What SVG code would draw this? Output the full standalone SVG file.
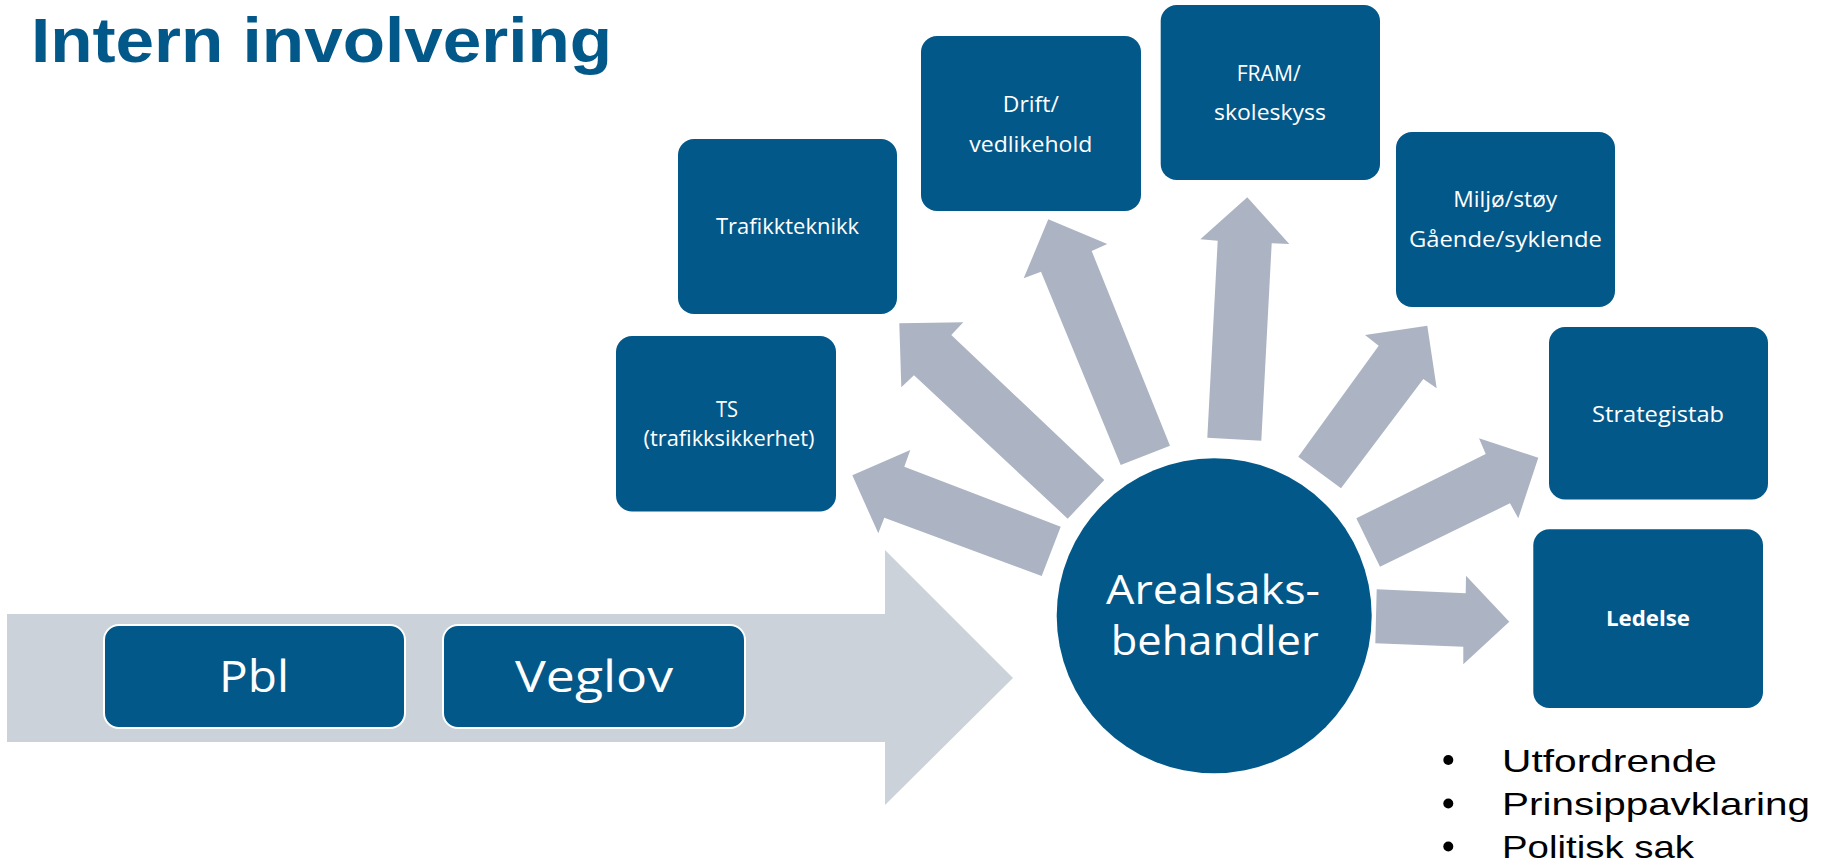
<svg xmlns="http://www.w3.org/2000/svg" width="1825" height="865" viewBox="0 0 1825 865">
  <style>
    .box { fill: #03588A; }
    .lbl { fill: #FFFFFF; font-family: "Open Sans", "Noto Sans", sans-serif; font-size: 21px; text-anchor: middle; }
    .big { fill: #FFFFFF; font-family: "Open Sans", "Noto Sans", sans-serif; text-anchor: middle; }
    .arr { fill: #ACB4C3; }
    .bul { fill: #000000; font-family: "Liberation Sans", Arial, sans-serif; font-size: 32px; }
  </style>
  <rect width="1825" height="865" fill="#FFFFFF"/>

  <text x="31" y="62" fill="#03588A" font-family="'Liberation Sans', Arial, sans-serif" font-size="63" font-weight="700" textLength="581" lengthAdjust="spacingAndGlyphs">Intern involvering</text>

  <g id="flow-arrow">
    <polygon points="7,614 885,614 885,550 1013,678 885,805 885,742 7,742" fill="#CBD2DA"/>
  </g>

  <g id="node-pbl">
    <rect class="box" x="104" y="625" width="301" height="103" rx="15" stroke="#FFFFFF" stroke-width="2"/>
    <text class="big" x="254" y="692" font-size="44" textLength="70" lengthAdjust="spacingAndGlyphs">Pbl</text>
  </g>
  <g id="node-veglov">
    <rect class="box" x="443" y="625" width="302" height="103" rx="15" stroke="#FFFFFF" stroke-width="2"/>
    <text class="big" x="594" y="692" font-size="44" textLength="158" lengthAdjust="spacingAndGlyphs">Veglov</text>
  </g>

  <g id="connectors">
    <polygon class="arr" points="1060.7,526.7 904.3,466.7 910.3,450 852.3,475.3 878.3,533.3 884.3,517.7 1041.7,576"/>
    <polygon class="arr" points="1104.3,480 951.3,335 963.3,322.3 899.3,323.3 901.3,387.3 914,375.3 1067.7,518.7"/>
    <polygon class="arr" points="1170,445.7 1091.7,251 1107.3,244 1048.3,219.3 1023.7,278.3 1041,271.7 1120.7,465"/>
    <polygon class="arr" points="1207.3,437.7 1217.7,240.7 1200.3,239.3 1247.3,197.3 1289.3,244 1271.7,243.3 1261.3,440.7"/>
    <polygon class="arr" points="1298.3,456.7 1378.7,345.7 1365,335 1427.3,325.7 1436.7,388.3 1423.3,379 1341,488.3"/>
    <polygon class="arr" points="1356.3,518.3 1485.7,454 1479,438.3 1538.3,457.7 1518.3,518.3 1510,503.3 1380,566.7"/>
    <polygon class="arr" points="1376.7,589.3 1465.7,593.3 1466,575.7 1509.3,621.7 1463.3,664.3 1463.3,646.7 1375.3,643.3"/>
  </g>

  <g id="node-arealsaksbehandler">
    <circle class="box" cx="1214.2" cy="615.8" r="157.5"/>
    <text class="big" x="1213" y="603.5" font-size="40" textLength="214" lengthAdjust="spacingAndGlyphs">Arealsaks-</text>
    <text class="big" x="1214.7" y="655" font-size="40" textLength="208" lengthAdjust="spacingAndGlyphs">behandler</text>
  </g>

  <g id="node-ts">
    <rect class="box" x="616" y="336" width="220" height="175.5" rx="16"/>
    <text class="lbl" x="727" y="416.7" textLength="22" lengthAdjust="spacingAndGlyphs">TS</text>
    <text class="lbl" x="729" y="446" textLength="171" lengthAdjust="spacingAndGlyphs">(trafikksikkerhet)</text>
  </g>

  <g id="node-trafikkteknikk">
    <rect class="box" x="678" y="139" width="219" height="175" rx="16"/>
    <text class="lbl" x="787.5" y="234.3" textLength="143" lengthAdjust="spacingAndGlyphs">Trafikkteknikk</text>
  </g>

  <g id="node-drift">
    <rect class="box" x="921" y="36" width="220" height="175" rx="16"/>
    <text class="lbl" x="1030.8" y="111.7" textLength="56" lengthAdjust="spacingAndGlyphs">Drift/</text>
    <text class="lbl" x="1030.8" y="151.7" textLength="123" lengthAdjust="spacingAndGlyphs">vedlikehold</text>
  </g>

  <g id="node-fram">
    <rect class="box" x="1160.7" y="5" width="219.3" height="175" rx="16"/>
    <text class="lbl" x="1268.7" y="81" textLength="64" lengthAdjust="spacingAndGlyphs">FRAM/</text>
    <text class="lbl" x="1270" y="120" textLength="112" lengthAdjust="spacingAndGlyphs">skoleskyss</text>
  </g>

  <g id="node-miljo">
    <rect class="box" x="1396" y="132" width="219" height="175" rx="16"/>
    <text class="lbl" x="1505.3" y="207.3" textLength="104" lengthAdjust="spacingAndGlyphs">Miljø/støy</text>
    <text class="lbl" x="1505.4" y="246.7" textLength="193" lengthAdjust="spacingAndGlyphs">Gående/syklende</text>
  </g>

  <g id="node-strategistab">
    <rect class="box" x="1549" y="327" width="219" height="172.5" rx="16"/>
    <text class="lbl" x="1658" y="421.7" textLength="132" lengthAdjust="spacingAndGlyphs">Strategistab</text>
  </g>

  <g id="node-ledelse">
    <rect class="box" x="1533.3" y="529.3" width="229.7" height="178.7" rx="16"/>
    <text class="lbl" x="1648" y="626" font-weight="700" textLength="84" lengthAdjust="spacingAndGlyphs">Ledelse</text>
  </g>

  <g id="notes">
    <circle cx="1448.3" cy="760" r="5"/>
    <circle cx="1448.3" cy="803.5" r="5"/>
    <circle cx="1448.3" cy="846.5" r="5"/>
    <text class="bul" x="1502" y="772" textLength="215" lengthAdjust="spacingAndGlyphs">Utfordrende</text>
    <text class="bul" x="1502" y="815" textLength="308" lengthAdjust="spacingAndGlyphs">Prinsippavklaring</text>
    <text class="bul" x="1502" y="857.5" textLength="192" lengthAdjust="spacingAndGlyphs">Politisk sak</text>
  </g>
</svg>
